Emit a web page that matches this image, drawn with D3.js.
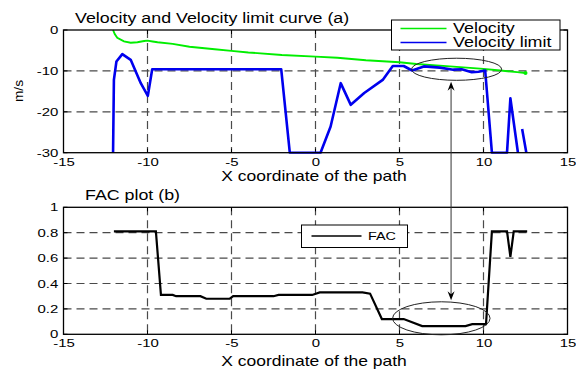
<!DOCTYPE html>
<html>
<head>
<meta charset="utf-8">
<script src="https://cdn.jsdelivr.net/npm/d3@7"></script>
<style>
  body { margin: 0; background: #fff; }
  svg { display: block; font-family: "Liberation Sans", Arial, sans-serif; }
</style>
</head>
<body>
<div id="chart"></div>
<script>
// Velocity curve (green)
var velX = [-12.05, -11.95, -11.8, -11.4, -11.0, -10.6, -10.2, -10.0, -9.7, -9.4, -8.5, -7.5, -6, -5, -4, -2, 0, 1.3, 3, 5, 6, 8, 10, 11, 12, 12.5];
var velY = [0, -1.0, -1.9, -2.8, -3.1, -3.0, -2.7, -2.6, -2.8, -3.0, -3.4, -4.1, -4.7, -5.1, -5.5, -6.1, -6.5, -6.8, -7.4, -7.9, -8.3, -8.9, -9.5, -9.9, -10.3, -10.5];

// Velocity limit curve (blue), null = gap
var limX = [-12.05, -12.0, -11.85, -11.5, -11.0, -10.4, -9.98, -9.72, -2.04, -1.53, 0.3, 0.9, 1.5, 2.1, 2.9, 4.0, 4.6, 5.25, 5.75, 6.45, 7.4, 8.2, 8.7, 9.3, 9.7, 10.1, 10.5, 11.4, 11.6, 12.05, 12.2, 12.3, 12.55];
var limY = [-30, -12.2, -7.7, -5.9, -7.3, -13, -16.1, -9.6, -9.6, -30, -30, -23.6, -13, -18.3, -15.4, -12.2, -8.8, -8.8, -9.9, -8.9, -9.2, -9.7, -9.6, -10.3, -10.2, -9.9, -30, -30, -16.7, -30, null, -24.2, -30];

// FAC curve (black)
var facX = [-12, -9.5, -9.2, -8.5, -8.3, -6.85, -6.5, -5.1, -4.9, -2.5, -2.2, -0.2, 0.25, 2.8, 3.25, 3.95, 5.25, 6.35, 8.93, 9.33, 10.15, 10.5, 11.4, 11.6, 11.8, 12.6];
var facY = [0.81, 0.81, 0.31, 0.31, 0.30, 0.30, 0.28, 0.28, 0.30, 0.30, 0.31, 0.31, 0.33, 0.33, 0.32, 0.12, 0.12, 0.065, 0.065, 0.08, 0.08, 0.81, 0.81, 0.61, 0.81, 0.81];

// ticks
var xTicks = [-15, -10, -5, 0, 5, 10, 15];
var velTicks = [-30, -20, -10, 0];
var facTicks = [0, 0.2, 0.4, 0.6, 0.8, 1];

// annotations: ellipse [cx, cy, rx, ry] in data units, arrow x
var topEllipse = [8.4, -9.6, 2.68, 2.7];
var botEllipse = [7.49, 0.126, 2.9, 0.13];
var arrowX = 8.07;

var W = 576, H = 369;
var FONT = '"Liberation Sans", Arial, sans-serif';
var svg = d3.select('#chart').append('svg').attr('width', W).attr('height', H);

var x = d3.scaleLinear().domain([-15, 15]).range([63.5, 567.5]);
var yTop = d3.scaleLinear().domain([-30, 0]).range([152.7, 30]);
var yBot = d3.scaleLinear().domain([0, 1]).range([334.3, 207.3]);

// text helper, stretched horizontally like the source picture
function label(t, px, py, size, sx, anchor, rot) {
    var tr = 'translate(' + px + ',' + py + ')' + (rot ? ' rotate(' + rot + ')' : '') + ' scale(' + sx + ',1)';
    return svg.append('text')
        .attr('transform', tr)
        .attr('font-size', size)
        .attr('text-anchor', anchor || 'start')
        .attr('fill', '#000')
        .text(t);
}

function panel(yScale, yTicks, fmt, clipId) {
    var r0 = yScale.range();
    var top = r0[1], bot = r0[0];
    var g = svg.append('g');

    g.append('clipPath').attr('id', clipId).append('rect')
        .attr('x', x(-15)).attr('y', top - 1).attr('width', x(15) - x(-15)).attr('height', bot - top + 2);

    // dashed grid
    g.selectAll('.gx').data(xTicks.slice(1, -1)).enter().append('line')
        .attr('x1', function(d) {return x(d);}).attr('x2', function(d) {return x(d);})
        .attr('y1', top).attr('y2', bot)
        .attr('stroke', '#4a4a4a').attr('stroke-width', 1.2).attr('stroke-dasharray', '8,5');
    g.selectAll('.gy').data(yTicks.slice(1, -1)).enter().append('line')
        .attr('y1', function(d) {return yScale(d);}).attr('y2', function(d) {return yScale(d);})
        .attr('x1', x(-15)).attr('x2', x(15))
        .attr('stroke', '#4a4a4a').attr('stroke-width', 1.2).attr('stroke-dasharray', '8,5');

    // axis labels
    var ax = d3.axisBottom(x).tickValues(xTicks).tickSize(0).tickPadding(5).tickFormat(function(d) {return String(d);});
    var gx = g.append('g').attr('transform', 'translate(0,' + bot + ')').call(ax);
    gx.select('.domain').remove();
    gx.selectAll('text').attr('font-size', 11.5).attr('font-family', FONT).attr('fill', '#000')
        .attr('transform', 'scale(1.3,1)');

    var ay = d3.axisLeft(yScale).tickValues(yTicks).tickSize(0).tickPadding(4).tickFormat(fmt);
    var gy = g.append('g').attr('transform', 'translate(' + x(-15) + ',0)').call(ay);
    gy.select('.domain').remove();
    gy.selectAll('text').attr('font-size', 11.5).attr('font-family', FONT).attr('fill', '#000')
        .attr('transform', 'scale(1.3,1)');

    // small inward ticks
    g.selectAll('.tx').data(xTicks).enter().append('path')
        .attr('d', function(d) {return 'M' + x(d) + ',' + bot + 'v-4M' + x(d) + ',' + top + 'v4';})
        .attr('stroke', '#000');
    g.selectAll('.ty').data(yTicks).enter().append('path')
        .attr('d', function(d) {return 'M' + x(-15) + ',' + yScale(d) + 'h4M' + x(15) + ',' + yScale(d) + 'h-4';})
        .attr('stroke', '#000');

    return g;
}

var gTop = panel(yTop, velTicks, function(d) {return String(d);}, 'clipTop');
var gBot = panel(yBot, facTicks, function(d) {return d === 0 || d === 1 ? String(d) : d3.format('.1f')(d);}, 'clipBot');

// series
var velLine = d3.line().x(function(d, i) {return x(velX[i]);}).y(function(d) {return yTop(d);});
gTop.append('path').datum(velY).attr('d', velLine)
    .attr('fill', 'none').attr('stroke', '#00ee00').attr('stroke-width', 1.9).attr('clip-path', 'url(#clipTop)');
gTop.append('circle').attr('cx', x(velX[velX.length - 1])).attr('cy', yTop(velY[velY.length - 1]))
    .attr('r', 2).attr('fill', '#00ee00');

var limLine = d3.line().defined(function(d) {return d !== null;})
    .x(function(d, i) {return x(limX[i]);}).y(function(d) {return yTop(d);});
gTop.append('path').datum(limY).attr('d', limLine)
    .attr('fill', 'none').attr('stroke', '#0000ee').attr('stroke-width', 2.6).attr('stroke-linejoin', 'round')
    .attr('clip-path', 'url(#clipTop)');

var facLine = d3.line().x(function(d, i) {return x(facX[i]);}).y(function(d) {return yBot(d);});
gBot.append('path').datum(facY).attr('d', facLine)
    .attr('fill', 'none').attr('stroke', '#000').attr('stroke-width', 2.2);

// axes boxes
[yTop, yBot].forEach(function(ys) {
    var r = ys.range();
    svg.append('rect').attr('x', x(-15)).attr('y', r[1]).attr('width', x(15) - x(-15)).attr('height', r[0] - r[1])
        .attr('fill', 'none').attr('stroke', '#000').attr('stroke-width', 1.3);
});

// legends
var lg1 = svg.append('g');
lg1.append('rect').attr('x', 391.5).attr('y', 20).attr('width', 168.5).attr('height', 30)
    .attr('fill', '#fff').attr('stroke', '#000').attr('stroke-width', 1);
lg1.append('line').attr('x1', 400.5).attr('x2', 446.5).attr('y1', 28.5).attr('y2', 28.5).attr('stroke', '#00ee00').attr('stroke-width', 1.3);
lg1.append('line').attr('x1', 400.5).attr('x2', 446.5).attr('y1', 42.5).attr('y2', 42.5).attr('stroke', '#0000ee').attr('stroke-width', 1.5);
label('Velocity', 453, 33.3, 14, 1.28);
label('Velocity limit', 453, 47.3, 14, 1.28);

var lg2 = svg.append('g');
lg2.append('rect').attr('x', 301.5).attr('y', 225).attr('width', 106).attr('height', 22.5)
    .attr('fill', '#fff').attr('stroke', '#000').attr('stroke-width', 1);
lg2.append('line').attr('x1', 311.5).attr('x2', 361.5).attr('y1', 236).attr('y2', 236).attr('stroke', '#000').attr('stroke-width', 1.5);
label('FAC', 368, 240.3, 11.5, 1.25);

// titles and axis labels
label('Velocity and Velocity limit curve (a)', 75, 22.7, 15.5, 1.15);
label('X coordinate of the path', 314, 181, 14, 1.25, 'middle');
label('FAC plot (b)', 85, 200, 15.5, 1.15);
label('X coordinate of the path', 314, 365.5, 14, 1.25, 'middle');
label('m/s', 23, 91, 12.5, 1.1, 'middle', -90);

// annotations
var ann = svg.append('g');
[[topEllipse, yTop], [botEllipse, yBot]].forEach(function(p) {
    var e = p[0], ys = p[1];
    ann.append('ellipse')
        .attr('cx', x(e[0])).attr('cy', ys(e[1]))
        .attr('rx', x(e[0] + e[2]) - x(e[0])).attr('ry', Math.abs(ys(e[1] + e[3]) - ys(e[1])))
        .attr('fill', 'none').attr('stroke', '#222').attr('stroke-width', 1);
});
var ax0 = x(arrowX);
var yA = yTop(topEllipse[1]) + Math.abs(yTop(topEllipse[1] + topEllipse[3]) - yTop(topEllipse[1])) + 1.5;
var yB = yBot(botEllipse[1]) - Math.abs(yBot(botEllipse[1] + botEllipse[3]) - yBot(botEllipse[1])) - 1.5;
ann.append('line').attr('x1', ax0).attr('x2', ax0).attr('y1', yA + 4).attr('y2', yB - 4)
    .attr('stroke', '#333').attr('stroke-width', 1);
ann.append('path').attr('d', 'M' + ax0 + ',' + yA + 'l-3.5,9l3.5,-3l3.5,3z').attr('fill', '#000');
ann.append('path').attr('d', 'M' + ax0 + ',' + yB + 'l-3.5,-9l3.5,3l3.5,-3z').attr('fill', '#000');
</script>
</body>
</html>
